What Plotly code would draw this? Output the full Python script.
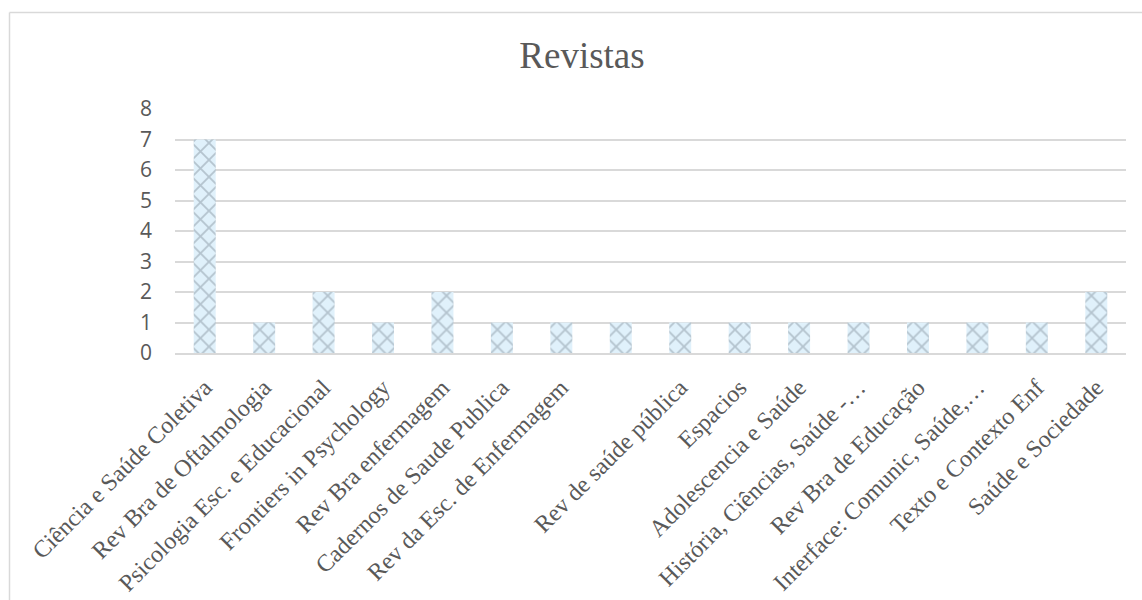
import plotly.graph_objects as go

categories = [
    "Ciência e Saúde Coletiva",
    "Rev Bra de Oftalmologia",
    "Psicologia Esc. e Educacional",
    "Frontiers in Psychology",
    "Rev Bra enfermagem",
    "Cadernos de Saude Publica",
    "Rev da Esc. de Enfermagem",
    " ",
    "Rev de saúde pública",
    "Espacios",
    "Adolescencia e Saúde",
    "História, Ciências, Saúde -…",
    "Rev Bra de Educação",
    "Interface: Comunic, Saúde,…",
    "Texto e Contexto Enf",
    "Saúde e Sociedade",
]
values = [7, 1, 2, 1, 2, 1, 1, 1, 1, 1, 1, 1, 1, 1, 1, 2]
y_ticks = [0, 1, 2, 3, 4, 5, 6, 7, 8]

W, H = 1142, 600
L, R, T, B = 175, 16, 109, 247
pw = W - L - R
ph = H - T - B

fig = go.Figure()
fig.add_trace(go.Bar(
    x=categories,
    y=values,
    width=0.37,
    marker=dict(
        color="#E0F1FB",
        line=dict(width=0),
        pattern=dict(shape="x", fgcolor="#8796A1", bgcolor="#E0F1FB",
                     size=12, solidity=0.28, fillmode="overlay"),
    ),
    hoverinfo="x+y",
))

fig.update_layout(
    width=W, height=H,
    margin=dict(l=L, r=R, t=T, b=B, autoexpand=False),
    paper_bgcolor="white",
    plot_bgcolor="white",
    showlegend=False,
    title=dict(text="Revistas", x=582 / W, xanchor="center",
               y=1 - 55 / H, yanchor="middle", yref="container",
               font=dict(family="Liberation Serif, Times New Roman, serif",
                         size=37, color="#595959")),
    xaxis=dict(
        type="category",
        tickangle=-45,
        tickfont=dict(family="Liberation Serif, Times New Roman, serif",
                      size=24, color="#595959"),
        showgrid=False,
        showline=True, linecolor="#D9D9D9", linewidth=2,
        ticks="", ticklabelstandoff=9,
        automargin=False,
    ),
    yaxis=dict(
        range=[0, 8],
        tickvals=y_ticks,
        tickfont=dict(family="Open Sans, Liberation Sans, Arial, sans-serif",
                      size=21, color="#595959"),
        showgrid=True, gridcolor="#D9D9D9", gridwidth=1.5,
        zeroline=False, showline=False, ticks="",
        ticklabelstandoff=22,
        automargin=False,
    ),
)

# outer chart frame (left and top edges visible)
x_left = (9.5 - L) / pw
y_top = (H - B - 12.5) / ph
fig.add_shape(type="line", xref="paper", yref="paper",
              x0=x_left, x1=x_left, y0=y_top, y1=(H - B - H - 5) / ph,
              line=dict(color="#D9D9D9", width=1.5))
fig.add_shape(type="line", xref="paper", yref="paper",
              x0=x_left, x1=(W + 5 - L) / pw, y0=y_top, y1=y_top,
              line=dict(color="#D9D9D9", width=1.5))

fig.write_html("out.html")
